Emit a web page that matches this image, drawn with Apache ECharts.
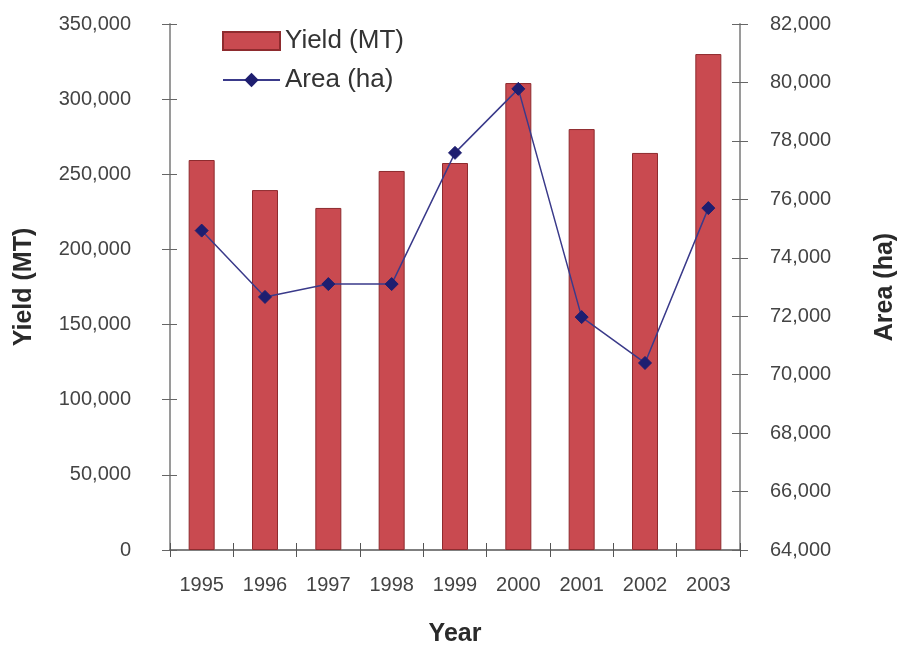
<!DOCTYPE html>
<html>
<head>
<meta charset="utf-8">
<script src="https://cdn.jsdelivr.net/npm/echarts@6/dist/echarts.min.js"></script>
<style>html,body{margin:0;padding:0;background:#fff}#c{width:899px;height:647px}</style>
</head>
<body>
<div id="c"></div>
<script>
var years = ['1995','1996','1997','1998','1999','2000','2001','2002','2003'];
var yieldMT = [259500, 239500, 227600, 252200, 257500, 310700, 280100, 264200, 330000];
var areaHa = [74930, 72660, 73100, 73100, 77590, 79780, 71970, 70400, 75700];
var leftTicks = {min: 0, max: 350000, interval: 50000};
var rightTicks = {min: 64000, max: 82000, interval: 2000};

function fmt(v){ return v.toLocaleString('en-US'); }
var font = 'Liberation Sans, Arial, sans-serif';
var axisCol = '#9a9a9a';
var tickCol = '#666';

var chart = echarts.init(document.getElementById('c'));
chart.setOption({
  animation: false,
  grid: {left: 170, right: 159, top: 24, bottom: 97, containLabel: false, outerBoundsMode: 'none'},
  legend: {
    orient: 'vertical', left: 222, top: 28, padding: 0, itemWidth: 57, itemHeight: 18, itemGap: 13,
    textStyle: {fontFamily: font, fontSize: 26, color: '#333'},
    data: [
      {name: 'Yield (MT)', icon: 'rect'},
      {name: 'Area (ha)'}
    ]
  },
  xAxis: [{
    type: 'category', data: years, position: 'bottom',
    name: 'Year', nameLocation: 'middle', nameGap: 72,
    nameTextStyle: {fontFamily: font, fontSize: 25, fontWeight: 'bold', color: '#2a2a2a'},
    axisLine: {lineStyle: {color: '#555', width: 1.5}},
    axisTick: {show: true, length: 7, inside: false, lineStyle: {color: '#555'}},
    axisLabel: {fontFamily: font, fontSize: 20, color: '#444', margin: 25}
  }, {
    type: 'category', data: years, position: 'bottom', gridIndex: 0,
    axisLine: {show: false}, axisLabel: {show: false},
    axisTick: {show: true, length: 7, inside: true, lineStyle: {color: '#555'}}
  }],
  yAxis: [{
    type: 'value', min: leftTicks.min, max: leftTicks.max, interval: leftTicks.interval,
    name: 'Yield (MT)', nameLocation: 'middle', nameGap: 133, nameRotate: 90,
    nameTextStyle: {fontFamily: font, fontSize: 25, fontWeight: 'bold', color: '#2a2a2a'},
    axisLine: {show: true, lineStyle: {color: axisCol, width: 2}},
    axisTick: {show: true, length: 8, lineStyle: {color: tickCol}},
    splitLine: {show: false},
    axisLabel: {fontFamily: font, fontSize: 20, color: '#444', margin: 39, formatter: fmt, padding: [0, 0, 9, 0]}
  }, {
    type: 'value', min: rightTicks.min, max: rightTicks.max, interval: rightTicks.interval,
    position: 'right',
    name: 'Area (ha)', nameLocation: 'middle', nameGap: 133, nameRotate: 90,
    nameTextStyle: {fontFamily: font, fontSize: 25, fontWeight: 'bold', color: '#2a2a2a'},
    axisLine: {show: true, lineStyle: {color: axisCol, width: 2}},
    axisTick: {show: true, length: 8, lineStyle: {color: tickCol}},
    splitLine: {show: false},
    axisLabel: {fontFamily: font, fontSize: 20, color: '#444', margin: 30, formatter: fmt, padding: [0, 0, 9, 0]}
  }, {
    type: 'value', min: leftTicks.min, max: leftTicks.max, interval: leftTicks.interval,
    position: 'left', axisLine: {show: false}, axisLabel: {show: false}, splitLine: {show: false},
    axisTick: {show: true, inside: true, length: 7, lineStyle: {color: tickCol}}
  }, {
    type: 'value', min: rightTicks.min, max: rightTicks.max, interval: rightTicks.interval,
    position: 'right', axisLine: {show: false}, axisLabel: {show: false}, splitLine: {show: false},
    axisTick: {show: true, inside: true, length: 8, lineStyle: {color: tickCol}}
  }],
  series: [{
    name: 'Yield (MT)', type: 'bar', xAxisIndex: 0, yAxisIndex: 0, data: yieldMT,
    barWidth: 26,
    itemStyle: {color: '#c94a50', borderColor: '#8e2b2e', borderWidth: 1}
  }, {
    name: 'Area (ha)', type: 'line', xAxisIndex: 0, yAxisIndex: 1, data: areaHa,
    symbol: 'diamond', symbolSize: 13,
    lineStyle: {color: '#3a3a8a', width: 1.5},
    itemStyle: {color: '#1e1e70', borderColor: '#1e1e70'}
  }]
});
</script>
</body>
</html>
